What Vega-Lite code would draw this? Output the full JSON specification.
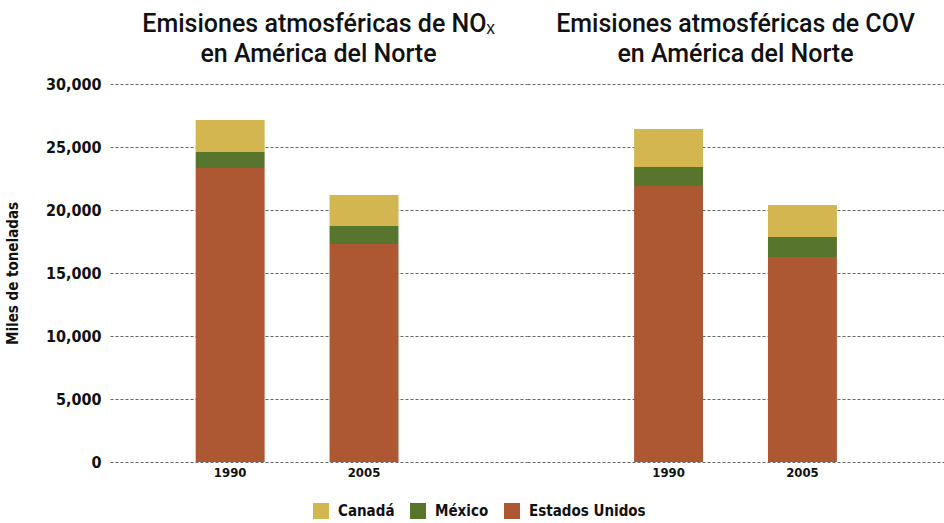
{
  "$schema": "https://vega.github.io/schema/vega-lite/v6.json",
  "background": "white",
  "padding": {"left": 5, "top": 12, "right": 0, "bottom": 0},
  "data": {"values": [
    {"gas": "NOx", "year": "1990", "country": "Estados Unidos", "value": 23330},
    {"gas": "NOx", "year": "1990", "country": "México", "value": 1270},
    {"gas": "NOx", "year": "1990", "country": "Canadá", "value": 2540},
    {"gas": "NOx", "year": "2005", "country": "Estados Unidos", "value": 17300},
    {"gas": "NOx", "year": "2005", "country": "México", "value": 1430},
    {"gas": "NOx", "year": "2005", "country": "Canadá", "value": 2460},
    {"gas": "COV", "year": "1990", "country": "Estados Unidos", "value": 21900},
    {"gas": "COV", "year": "1990", "country": "México", "value": 1510},
    {"gas": "COV", "year": "1990", "country": "Canadá", "value": 3020},
    {"gas": "COV", "year": "2005", "country": "Estados Unidos", "value": 16270},
    {"gas": "COV", "year": "2005", "country": "México", "value": 1590},
    {"gas": "COV", "year": "2005", "country": "Canadá", "value": 2540}
  ]},
  "spacing": 0,
  "hconcat": [
    {
      "width": 417,
      "height": 378,
      "title": {"text": ["Emisiones atmosféricas de NOₓ", "en América del Norte"], "offset": 9},
      "transform": [
        {"filter": "datum.gas === 'NOx'"},
        {"calculate": "indexof(['Estados Unidos','México','Canadá'], datum.country)", "as": "stackorder"}
      ],
      "mark": {"type": "bar"},
      "encoding": {
        "x": {"field": "year", "type": "nominal", "scale": {"paddingInner": 0.485, "paddingOuter": 0.8, "align": 0.4}, "axis": {"title": null, "labelAngle": 0, "domain": false, "ticks": false, "labelPadding": 4}},
        "y": {"field": "value", "type": "quantitative", "stack": "zero", "scale": {"domain": [0, 30000]},
              "axis": {"title": "Miles de toneladas", "values": [0, 5000, 10000, 15000, 20000, 25000, 30000], "format": ",d", "labelFontSize": 16, "labelPadding": 9, "titlePadding": 25}},
        "color": {"field": "country", "type": "nominal", "scale": {"domain": ["Canadá", "México", "Estados Unidos"], "range": ["#D4B651", "#58752E", "#AE5733"]},
                  "legend": {"title": null, "orient": "none", "legendX": 203, "legendY": 419}},
        "order": {"field": "stackorder"}
      }
    },
    {
      "width": 417,
      "height": 378,
      "title": {"text": ["Emisiones atmosféricas de COV", "en América del Norte"], "offset": 17},
      "transform": [
        {"filter": "datum.gas === 'COV'"},
        {"calculate": "indexof(['Estados Unidos','México','Canadá'], datum.country)", "as": "stackorder"}
      ],
      "mark": {"type": "bar"},
      "encoding": {
        "x": {"field": "year", "type": "nominal", "scale": {"paddingInner": 0.485, "paddingOuter": 0.8, "align": 0.5}, "axis": {"title": null, "labelAngle": 0, "domain": false, "ticks": false, "labelPadding": 4}},
        "y": {"field": "value", "type": "quantitative", "stack": "zero", "scale": {"domain": [0, 30000]},
              "axis": {"title": null, "labels": false, "values": [0, 5000, 10000, 15000, 20000, 25000, 30000]}},
        "color": {"field": "country", "type": "nominal", "scale": {"domain": ["Canadá", "México", "Estados Unidos"], "range": ["#D4B651", "#58752E", "#AE5733"]},
                  "legend": {"title": null, "orient": "none", "legendX": 203, "legendY": 419}},
        "order": {"field": "stackorder"}
      }
    }
  ],
  "resolve": {"scale": {"y": "independent"}},
  "config": {
    "view": {"stroke": null},
    "axis": {"labelFont": "DejaVu Sans Condensed, sans-serif", "labelFontWeight": "bold", "labelColor": "#111", "titleFont": "DejaVu Sans Condensed, sans-serif", "titleFontWeight": "bold", "titleFontSize": 15, "titleColor": "#111"},
    "axisY": {"domain": false, "ticks": false, "grid": true, "gridColor": "#666", "gridDash": [3, 2], "gridWidth": 1, "gridOpacity": 1},
    "axisX": {"labelFontSize": 13, "grid": false},
    "title": {"font": "Roboto, sans-serif", "fontSize": 25, "fontWeight": 500, "color": "#111", "anchor": "middle", "lineHeight": 30},
    "legend": {"direction": "horizontal", "symbolType": "square", "symbolSize": 256, "symbolStrokeWidth": 0, "symbolOpacity": 1, "labelFont": "DejaVu Sans Condensed, sans-serif", "labelFontWeight": "bold", "labelFontSize": 15, "labelColor": "#111", "columnPadding": 15, "labelOffset": 9, "padding": 0}
  }
}
